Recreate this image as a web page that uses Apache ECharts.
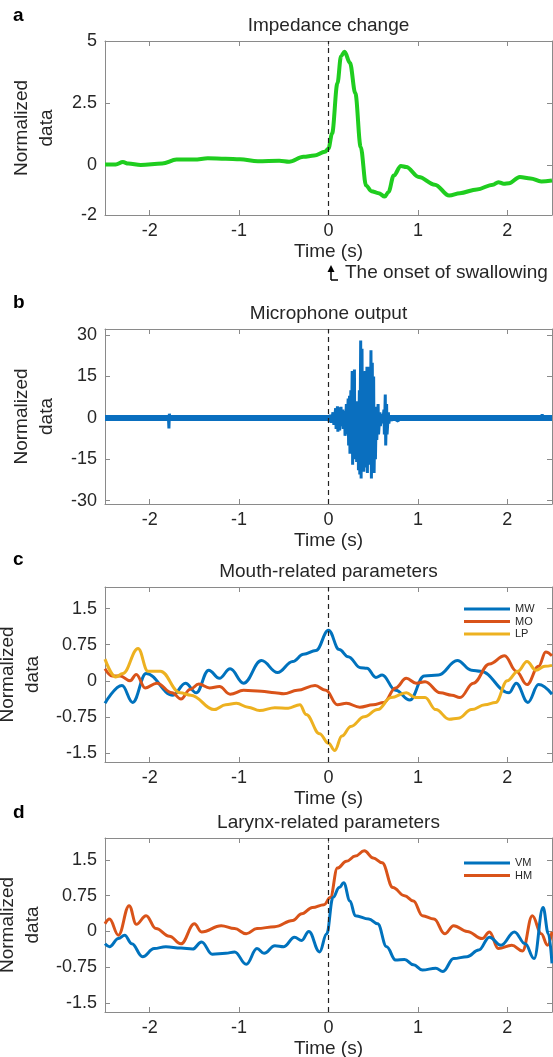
<!DOCTYPE html>
<html>
<head>
<meta charset="utf-8">
<script src="https://cdn.jsdelivr.net/npm/echarts@6/dist/echarts.min.js"></script>
<style>
html, body { margin: 0; padding: 0; background: #fff; }
#main { width: 553px; height: 1057px; }
</style>
</head>
<body>
<div id="main"></div>
<script>
// tick labels
var timeTicks = [-2, -1, 0, 1, 2];
var impTicks = [-2, 0, 2.5, 5];
var micTicks = [-30, -15, 0, 15, 30];
var paramTicks = [-1.5, -0.75, 0, 0.75, 1.5];

// a - impedance change [time, value]
var impedance = [[-2.5,0.03],[-2.38,0.03],[-2.3,0.13],[-2.24,0.07],[-2.1,0.01],[-1.86,0.07],[-1.7,0.23],[-1.5,0.23],[-1.35,0.28],[-1.15,0.26],[-0.99,0.24],[-0.79,0.16],[-0.55,0.18],[-0.44,0.14],[-0.28,0.34],[-0.16,0.39],[-0.04,0.54],[0,0.68],[0.04,1.28],[0.1,3.3],[0.14,4.39],[0.18,4.57],[0.24,4.12],[0.3,2.9],[0.36,0.74],[0.42,-0.81],[0.48,-1.04],[0.56,-1.12],[0.63,-1.26],[0.67,-1.08],[0.73,-0.41],[0.81,-0.03],[0.87,-0.07],[1.01,-0.47],[1.19,-0.78],[1.35,-1.22],[1.47,-1.12],[1.66,-0.97],[1.84,-0.78],[1.9,-0.68],[1.96,-0.74],[2.02,-0.72],[2.14,-0.47],[2.26,-0.53],[2.38,-0.65],[2.5,-0.61]];

// b - microphone output
var micBase = [[-2.5,0],[2.5,0]];
var micTrace = [[-2.5,0],[-1.79,0],[-1.785,-3.8],[-1.78,1.5],[-1.775,0],[0,0],[0.01,-1.5],[0.02,1.2],[0.03,-1.8],[0.05,2],[0.06,-2.5],
  [0.08,3.5],[0.085,-4],[0.1,4.2],[0.105,-5],[0.12,3.8],[0.125,-4.5],[0.14,4],[0.145,-3],[0.16,3],[0.165,-4],
  [0.18,2.5],[0.185,-6.5],[0.2,5],[0.205,-6],[0.22,7],[0.225,-10],[0.235,8],[0.24,-13],[0.25,10],[0.255,-12],
  [0.265,17],[0.27,-17],[0.28,14],[0.285,-15],[0.29,17.5],[0.295,-12],[0.31,6],[0.315,-16],[0.33,5],[0.335,-19],
  [0.345,10],[0.35,-20.5],[0.36,28],[0.365,-22],[0.375,25],[0.38,-18],[0.39,12],[0.395,-19.5],[0.41,17],[0.415,-18],
  [0.43,18.5],[0.435,-20],[0.445,18.5],[0.45,-16],[0.46,18],[0.465,-17],[0.475,24.5],[0.48,-22],[0.49,20],[0.495,-19],
  [0.505,15],[0.51,-20],[0.52,3],[0.525,-15],[0.535,4],[0.54,-8],[0.555,5],[0.56,-6],[0.575,2],[0.58,-3],
  [0.6,1.5],[0.605,-2],[0.62,3],[0.625,-6],[0.635,8.5],[0.64,-10],[0.65,5],[0.655,-6],[0.67,2],[0.675,-2],
  [0.69,1],[0.7,-1],[0.72,0],[0.78,-1.2],[0.79,0],[2.38,0],[2.39,1.3],[2.4,0],[2.5,0]];

// c - mouth-related parameters
var mw = [[-2.5,-0.47],[-2.31,-0.1],[-2.19,-0.45],[-2.04,0.15],[-1.74,-0.3],[-1.6,-0.05],[-1.48,-0.25],[-1.34,0.22],[-1.22,0.05],[-1.1,0.25],[-0.95,-0.05],[-0.75,0.42],[-0.57,0.17],[-0.4,0.4],[-0.28,0.55],[-0.14,0.63],[0,1.05],[0.12,0.65],[0.22,0.5],[0.36,0.27],[0.43,0.26],[0.53,0.07],[0.6,0.12],[0.75,-0.2],[0.91,-0.4],[1.07,0.1],[1.23,0.12],[1.44,0.42],[1.6,0.22],[1.7,0.2],[2.02,-0.25],[2.1,-0.05],[2.23,-0.45],[2.35,-0.08],[2.5,-0.28]];
var mo = [[-2.5,0.25],[-2.42,0.1],[-2.33,0.1],[-2.22,0.0],[-2.15,0.13],[-2.05,-0.15],[-1.92,-0.05],[-1.75,-0.25],[-1.65,-0.38],[-1.55,-0.18],[-1.45,-0.07],[-1.33,-0.15],[-1.22,-0.12],[-1.1,-0.28],[-0.95,-0.2],[-0.75,-0.22],[-0.6,-0.25],[-0.5,-0.27],[-0.35,-0.2],[-0.15,-0.1],[-0.03,-0.2],[0.1,-0.5],[0.2,-0.47],[0.35,-0.55],[0.5,-0.5],[0.62,-0.45],[0.75,-0.15],[0.87,0.05],[0.98,-0.05],[1.08,-0.02],[1.25,-0.25],[1.38,-0.3],[1.47,-0.35],[1.62,-0.05],[1.8,0.35],[1.97,0.52],[2.1,0.2],[2.22,-0.08],[2.35,0.3],[2.43,0.6],[2.5,0.52]];
var lp = [[-2.5,0.45],[-2.38,0.08],[-2.3,0.15],[-2.13,0.67],[-2.02,0.2],[-1.88,0.2],[-1.66,-0.25],[-1.54,-0.3],[-1.28,-0.6],[-1.15,-0.5],[-1.03,-0.47],[-0.9,-0.55],[-0.77,-0.62],[-0.6,-0.56],[-0.45,-0.57],[-0.32,-0.5],[-0.25,-0.7],[-0.1,-1.1],[0,-1.3],[0.07,-1.45],[0.15,-1.15],[0.25,-0.95],[0.4,-0.75],[0.55,-0.6],[0.7,-0.35],[0.87,-0.25],[0.97,-0.35],[1.08,-0.35],[1.2,-0.6],[1.35,-0.8],[1.45,-0.78],[1.6,-0.6],[1.75,-0.5],[1.87,-0.45],[2.0,0.0],[2.12,0.2],[2.22,0.4],[2.32,0.22],[2.42,0.3],[2.5,0.32]];

// d - larynx-related parameters
var vm = [[-2.5,-0.26],[-2.45,-0.32],[-2.35,-0.15],[-2.28,-0.08],[-2.2,-0.26],[-2.08,-0.53],[-1.95,-0.36],[-1.82,-0.32],[-1.65,-0.35],[-1.52,-0.37],[-1.42,-0.22],[-1.3,-0.48],[-1.15,-0.46],[-1.05,-0.43],[-0.92,-0.69],[-0.8,-0.36],[-0.72,-0.46],[-0.6,-0.3],[-0.5,-0.32],[-0.38,-0.12],[-0.3,-0.19],[-0.22,0.0],[-0.1,-0.43],[-0.02,-0.05],[0.05,0.71],[0.12,0.92],[0.17,1.02],[0.24,0.64],[0.3,0.33],[0.45,0.26],[0.55,0.16],[0.65,-0.32],[0.75,-0.6],[0.85,-0.59],[0.95,-0.7],[1.05,-0.81],[1.2,-0.77],[1.28,-0.84],[1.4,-0.57],[1.55,-0.53],[1.68,-0.39],[1.8,-0.12],[1.93,-0.29],[2.08,-0.01],[2.2,-0.26],[2.3,-0.57],[2.4,0.5],[2.46,-0.05],[2.5,-0.67]];
var hm = [[-2.5,0.16],[-2.45,0.26],[-2.35,-0.08],[-2.23,0.54],[-2.15,0.15],[-2.04,0.33],[-1.93,0.06],[-1.78,-0.1],[-1.65,-0.26],[-1.5,0.16],[-1.42,-0.01],[-1.2,0.12],[-1.05,0.06],[-0.92,-0.05],[-0.8,0.06],[-0.6,0.1],[-0.4,0.23],[-0.3,0.37],[-0.18,0.5],[-0.05,0.56],[0.02,0.71],[0.1,1.33],[0.2,1.47],[0.3,1.58],[0.4,1.69],[0.5,1.54],[0.6,1.44],[0.72,0.92],[0.85,0.75],[0.95,0.64],[1.05,0.33],[1.18,0.26],[1.3,-0.05],[1.4,0.12],[1.55,0.0],[1.72,-0.15],[1.8,-0.01],[1.9,-0.36],[2.05,-0.29],[2.17,-0.41],[2.28,0.33],[2.38,-0.05],[2.45,-0.29],[2.5,-0.01]];

var FONT = '"Liberation Sans", Arial, Helvetica, sans-serif';
var AXIS_COLOR = '#8a8a8a';
var TEXT_COLOR = '#262626';

var panels = [
	{ top: 41, height: 174, min: -2, max: 5, ticks: impTicks, title: 'Impedance change', letter: 'a' },
	{ top: 329, height: 175, min: -31.2, max: 32.2, ticks: micTicks, title: 'Microphone output', letter: 'b' },
	{ top: 587, height: 175, min: -1.69, max: 1.95, ticks: paramTicks, title: 'Mouth-related parameters', letter: 'c' },
	{ top: 838, height: 174, min: -1.69, max: 1.96, ticks: paramTicks, title: 'Larynx-related parameters', letter: 'd' }
];

var grids = [], xAxes = [], yAxes = [], graphics = [];
panels.forEach(function (p, i) {
	grids.push({ left: 105, right: 1, top: p.top, height: p.height, outerBoundsMode: 'none', containLabel: false });
	var axLine = { show: true, onZero: false, lineStyle: { color: AXIS_COLOR, width: 1 } };
	// bottom + top x axes
	xAxes.push({
		type: 'value', gridIndex: i, min: -2.5, max: 2.5, position: 'bottom',
		axisLine: axLine,
		axisTick: { inside: true, length: 5, customValues: timeTicks, lineStyle: { color: AXIS_COLOR } },
		axisLabel: { customValues: timeTicks, margin: 7, fontSize: 18, fontFamily: FONT, color: TEXT_COLOR },
		splitLine: { show: false },
		name: 'Time (s)', nameLocation: 'middle', nameGap: 27,
		nameTextStyle: { fontSize: 19, fontFamily: FONT, color: TEXT_COLOR }
	});
	xAxes.push({
		type: 'value', gridIndex: i, min: -2.5, max: 2.5, position: 'top',
		axisLine: axLine,
		axisTick: { inside: true, length: 5, customValues: timeTicks, lineStyle: { color: AXIS_COLOR } },
		axisLabel: { show: false },
		splitLine: { show: false }
	});
	// left + right y axes
	yAxes.push({
		type: 'value', gridIndex: i, min: p.min, max: p.max, position: 'left',
		axisLine: axLine,
		axisTick: { show: true, inside: true, length: 5, customValues: p.ticks, lineStyle: { color: AXIS_COLOR } },
		axisLabel: { customValues: p.ticks, margin: 8, fontSize: 18, fontFamily: FONT, color: TEXT_COLOR },
		splitLine: { show: false },
		name: 'Normalized\ndata', nameLocation: 'middle', nameGap: 46, nameRotate: 90,
		nameTextStyle: { fontSize: 19, lineHeight: 25, fontFamily: FONT, color: TEXT_COLOR }
	});
	yAxes.push({
		type: 'value', gridIndex: i, min: p.min, max: p.max, position: 'right',
		axisLine: axLine,
		axisTick: { show: true, inside: true, length: 5, customValues: p.ticks, lineStyle: { color: AXIS_COLOR } },
		axisLabel: { show: false },
		splitLine: { show: false }
	});
	graphics.push({
		type: 'text', x: 328.5, y: p.top - 15,
		style: { text: p.title, font: '19px ' + FONT, fill: TEXT_COLOR, align: 'center', verticalAlign: 'middle', textAlign: 'center', textVerticalAlign: 'middle' }
	});
	graphics.push({
		type: 'text', x: 13, y: [16, 303, 560, 813][i],
		style: { text: p.letter, font: 'bold 19px ' + FONT, fill: '#000', align: 'left', verticalAlign: 'middle', textAlign: 'left', textVerticalAlign: 'middle' }
	});
});

// onset of swallowing annotation
graphics.push({ type: 'polyline', shape: { points: [[331, 280], [331, 268]] }, style: { stroke: '#000', lineWidth: 1.5, fill: null } });
graphics.push({ type: 'polyline', shape: { points: [[331, 280], [338, 280]] }, style: { stroke: '#000', lineWidth: 1.5, fill: null } });
graphics.push({ type: 'polygon', shape: { points: [[327.5, 272], [331, 265], [334.5, 272]] }, style: { fill: '#000' } });
graphics.push({
	type: 'text', x: 345, y: 273,
	style: { text: 'The onset of swallowing', font: '19px ' + FONT, fill: TEXT_COLOR, align: 'left', verticalAlign: 'middle', textAlign: 'left', textVerticalAlign: 'middle' }
});

var onsetLine = {
	silent: true,
	symbol: ['none', 'none'],
	label: { show: false },
	lineStyle: { color: '#222', width: 1.2, type: [5, 4] },
	data: [{ xAxis: 0 }]
};

function curve(name, data, idx, color, width, smooth) {
	return {
		name: name, type: 'line', data: data,
		xAxisIndex: idx * 2, yAxisIndex: idx * 2,
		showSymbol: false, symbol: 'none',
		smooth: smooth, smoothMonotone: 'x',
		lineStyle: { color: color, width: width },
		itemStyle: { color: color },
		z: 3
	};
}

var sImp = curve('Impedance', impedance, 0, '#1fcd1f', 4, 0.35);
sImp.markLine = onsetLine;
var sBase = curve('micBase', micBase, 1, '#0a6fbf', 6, false);
sBase.markLine = onsetLine;
var sMic = curve('mic', micTrace, 1, '#0a6fbf', 3, false);
var sMw = curve('MW', mw, 2, '#0072BD', 3, 0.4);
sMw.markLine = onsetLine;
var sMo = curve('MO', mo, 2, '#D95319', 3, 0.4);
var sLp = curve('LP', lp, 2, '#EDB120', 3, 0.4);
var sVm = curve('VM', vm, 3, '#0072BD', 3, 0.4);
sVm.markLine = onsetLine;
var sHm = curve('HM', hm, 3, '#D95319', 3, 0.4);

var legendBase = {
	orient: 'vertical', left: 464, padding: 0,
	itemWidth: 46, itemHeight: 3, itemGap: 0.5, icon: 'rect',
	selectedMode: false,
	textStyle: { fontSize: 11, lineHeight: 12, fontFamily: FONT, color: TEXT_COLOR }
};

var option = {
	backgroundColor: '#fff',
	animation: false,
	grid: grids,
	xAxis: xAxes,
	yAxis: yAxes,
	legend: [
		Object.assign({}, legendBase, { top: 603, data: ['MW', 'MO', 'LP'] }),
		Object.assign({}, legendBase, { top: 857, data: ['VM', 'HM'] })
	],
	graphic: graphics,
	series: [sImp, sBase, sMic, sMw, sMo, sLp, sHm, sVm]
};

var chart = echarts.init(document.getElementById('main'), null, { renderer: 'canvas' });
chart.setOption(option);
</script>
</body>
</html>
